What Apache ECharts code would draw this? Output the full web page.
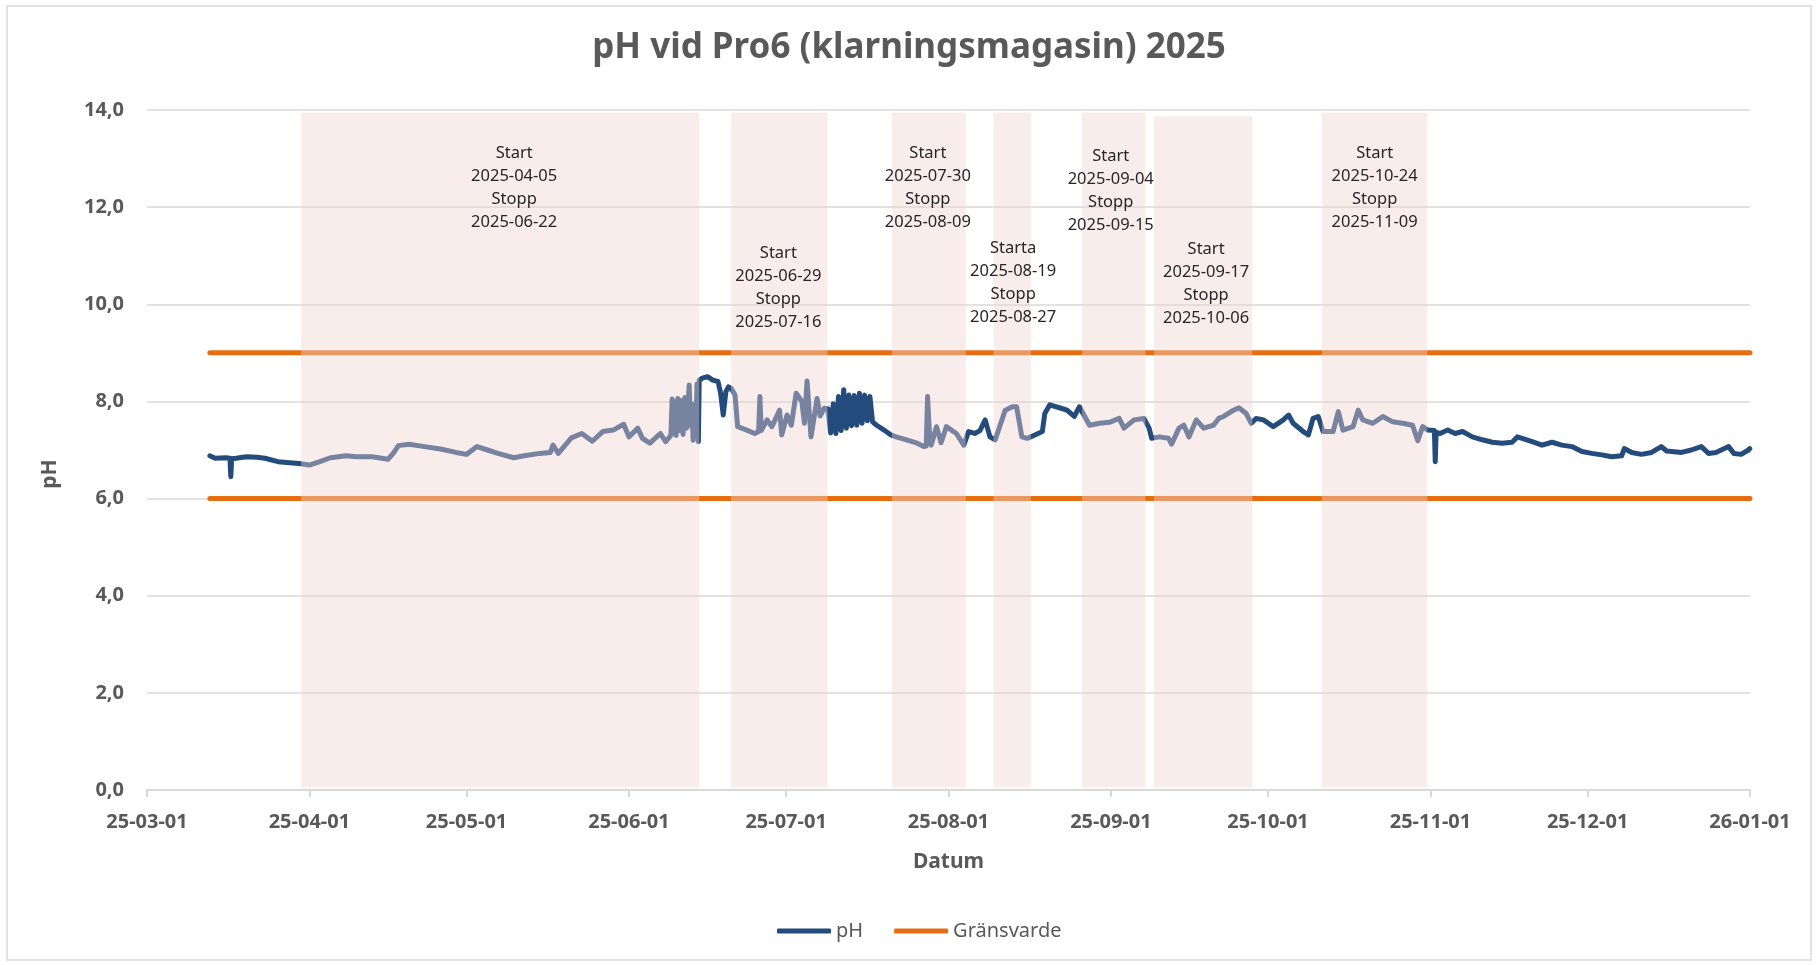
<!DOCTYPE html>
<html>
<head>
<meta charset="utf-8">
<title>pH vid Pro6 (klarningsmagasin) 2025</title>
<script src="https://cdn.jsdelivr.net/npm/echarts@6/dist/echarts.min.js"></script>
<style>
  html, body { margin: 0; padding: 0; background: #fff; }
  #main { width: 1818px; height: 965px; }
</style>
</head>
<body>
<div id="main"></div>
<script>
// pH-mätning
var phTimes = [
  '2025-03-13', '2025-03-14', '2025-03-16', '2025-03-16 20:00', '2025-03-17 00:00', '2025-03-17 04:00',
  '2025-03-18', '2025-03-20', '2025-03-22', '2025-03-23 12:00', '2025-03-26', '2025-03-30',
  '2025-04-01', '2025-04-03', '2025-04-05', '2025-04-08', '2025-04-10', '2025-04-13', '2025-04-16',
  '2025-04-17', '2025-04-18', '2025-04-20', '2025-04-23', '2025-04-26', '2025-04-29',
  '2025-05-01', '2025-05-03', '2025-05-05', '2025-05-07', '2025-05-10', '2025-05-12', '2025-05-15',
  '2025-05-17', '2025-05-17 12:00', '2025-05-18 12:00', '2025-05-20', '2025-05-21', '2025-05-23',
  '2025-05-25', '2025-05-27', '2025-05-29', '2025-05-31',
  '2025-06-01', '2025-06-02 16:00', '2025-06-03 14:00', '2025-06-05', '2025-06-07', '2025-06-08',
  '2025-06-09 00:00', '2025-06-09 06:00', '2025-06-09 12:00', '2025-06-09 18:00', '2025-06-10 00:00',
  '2025-06-10 08:00', '2025-06-10 16:00', '2025-06-11 00:00', '2025-06-11 08:00', '2025-06-11 16:00',
  '2025-06-12 00:00', '2025-06-12 12:00', '2025-06-12 18:00', '2025-06-13 00:00', '2025-06-13 06:00',
  '2025-06-13 12:00', '2025-06-13 18:00', '2025-06-14 00:00', '2025-06-14 06:00', '2025-06-14 10:00',
  '2025-06-15', '2025-06-16', '2025-06-17', '2025-06-18', '2025-06-18 12:00', '2025-06-19 00:00',
  '2025-06-19 12:00', '2025-06-20', '2025-06-20 12:00', '2025-06-21 06:00', '2025-06-21 18:00',
  '2025-06-23 12:00', '2025-06-25', '2025-06-25 18:00', '2025-06-26 00:00', '2025-06-26 06:00',
  '2025-06-26 12:00', '2025-06-27 09:00', '2025-06-28 07:00', '2025-06-29 18:00', '2025-06-30 04:00',
  '2025-07-01 04:00', '2025-07-02 00:00', '2025-07-02 22:00', '2025-07-04 00:00', '2025-07-04 12:00',
  '2025-07-05 00:00', '2025-07-05 18:00', '2025-07-06 22:00', '2025-07-07 12:00', '2025-07-08 07:00',
  '2025-07-09 00:00', '2025-07-09 12:00', '2025-07-10 00:00', '2025-07-10 12:00', '2025-07-11 00:00',
  '2025-07-11 12:00', '2025-07-12 00:00', '2025-07-12 12:00', '2025-07-13 00:00', '2025-07-13 12:00',
  '2025-07-14 00:00', '2025-07-14 12:00', '2025-07-15 00:00', '2025-07-15 12:00', '2025-07-16 00:00',
  '2025-07-16 12:00', '2025-07-17 00:00', '2025-07-17 12:00', '2025-07-18 07:00', '2025-07-19 17:00',
  '2025-07-21', '2025-07-22', '2025-07-24', '2025-07-26', '2025-07-27 07:00', '2025-07-27 18:00',
  '2025-07-28 00:00', '2025-07-28 08:00', '2025-07-28 17:00', '2025-07-29 17:00', '2025-07-30 14:00',
  '2025-07-31 14:00', '2025-08-02 12:00', '2025-08-03 22:00', '2025-08-04 20:00', '2025-08-06',
  '2025-08-07', '2025-08-08', '2025-08-08 22:00', '2025-08-09 22:00', '2025-08-11 20:00',
  '2025-08-13 05:00', '2025-08-14', '2025-08-15', '2025-08-16', '2025-08-17 12:00', '2025-08-18 22:00',
  '2025-08-19 09:00', '2025-08-20 08:00', '2025-08-22 04:00', '2025-08-23 15:00', '2025-08-25',
  '2025-08-26', '2025-08-27', '2025-08-27 22:00', '2025-08-29 20:00', '2025-08-31 17:00',
  '2025-09-02 14:00', '2025-09-03 12:00', '2025-09-05 10:00', '2025-09-07 07:00', '2025-09-08 07:00',
  '2025-09-08 19:00', '2025-09-10 05:00', '2025-09-12', '2025-09-12 14:00', '2025-09-14',
  '2025-09-14 22:00', '2025-09-15 22:00', '2025-09-17 07:00', '2025-09-18 17:00', '2025-09-20 14:00',
  '2025-09-21 14:00', '2025-09-22 12:00', '2025-09-24 10:00', '2025-09-25 10:00', '2025-09-26 20:00',
  '2025-09-27 19:00', '2025-09-28 17:00', '2025-09-30 03:00', '2025-10-02', '2025-10-03 22:00',
  '2025-10-04 22:00', '2025-10-05 19:00', '2025-10-07 17:00', '2025-10-08 17:00', '2025-10-09 14:00',
  '2025-10-10 14:00', '2025-10-11 12:00', '2025-10-13 10:00', '2025-10-14 10:00', '2025-10-15 07:00',
  '2025-10-17 05:00', '2025-10-18 05:00', '2025-10-19 02:00', '2025-10-21', '2025-10-22 22:00',
  '2025-10-24 19:00', '2025-10-26 17:00', '2025-10-28 14:00', '2025-10-29 14:00', '2025-10-30 12:00',
  '2025-10-31 12:00', '2025-11-01 18:00', '2025-11-01 22:00', '2025-11-02 02:00', '2025-11-02 20:00',
  '2025-11-04 07:00', '2025-11-05 17:00', '2025-11-07 03:00', '2025-11-09', '2025-11-10 22:00',
  '2025-11-12 19:00', '2025-11-14 17:00', '2025-11-16 14:00', '2025-11-17 14:00', '2025-11-18 12:00',
  '2025-11-20 10:00', '2025-11-22 07:00', '2025-11-24 05:00', '2025-11-26 02:00', '2025-11-28',
  '2025-11-29 22:00', '2025-12-01 19:00', '2025-12-03 17:00', '2025-12-05 14:00', '2025-12-07 12:00',
  '2025-12-08', '2025-12-09 10:00', '2025-12-11 07:00', '2025-12-13 05:00', '2025-12-15 02:00',
  '2025-12-16 02:00', '2025-12-18 22:00', '2025-12-20 19:00', '2025-12-22 17:00', '2025-12-24 02:00',
  '2025-12-25 12:00', '2025-12-27 22:00', '2025-12-28 22:00', '2025-12-30 07:00', '2025-12-31 17:00',
  '2025-12-31 23:00'
];
var phValues = [
  6.88, 6.83, 6.84, 6.83, 6.45, 6.82,
  6.83, 6.86, 6.85, 6.83, 6.76, 6.72,
  6.69, 6.76, 6.84, 6.88, 6.86, 6.86, 6.81,
  6.93, 7.09, 7.12, 7.07, 7.02, 6.95,
  6.91, 7.07, 7.00, 6.93, 6.84, 6.88, 6.93,
  6.95, 7.10, 6.93, 7.12, 7.25, 7.34,
  7.18, 7.38, 7.41, 7.53,
  7.27, 7.45, 7.24, 7.14, 7.34, 7.17,
  7.30, 8.05, 7.35, 8.00, 7.30,
  8.06, 7.40, 8.02, 7.32, 8.08,
  7.45, 8.34, 7.50, 7.95, 7.20,
  7.90, 7.35, 8.36, 7.17, 8.44,
  8.48, 8.51, 8.44, 8.41, 8.17, 7.72,
  8.20, 8.30, 8.27, 8.13, 7.48,
  7.41, 7.34, 7.38, 8.10, 7.40,
  7.38, 7.62, 7.48, 7.82, 7.31,
  7.72, 7.51, 8.17, 8.00, 7.55,
  8.42, 7.27, 8.06, 7.70, 7.86,
  7.85, 7.35, 7.95, 7.34, 8.10,
  7.40, 8.24, 7.45, 8.13, 7.50,
  8.12, 7.51, 8.17, 7.55, 8.13,
  7.60, 8.10, 7.58, 7.51, 7.41,
  7.31, 7.27, 7.21, 7.14, 7.07, 7.08,
  8.10, 7.40, 7.10, 7.48, 7.15,
  7.48, 7.34, 7.10, 7.38, 7.34,
  7.40, 7.62, 7.27, 7.21, 7.82,
  7.89, 7.89, 7.27, 7.24, 7.31, 7.38,
  7.75, 7.93, 7.87, 7.82, 7.69,
  7.89, 7.69, 7.51, 7.55, 7.57,
  7.65, 7.45, 7.62, 7.65, 7.45,
  7.24, 7.27, 7.24, 7.12, 7.45,
  7.51, 7.27, 7.62, 7.45, 7.51,
  7.65, 7.69, 7.82, 7.87, 7.75,
  7.55, 7.65, 7.62, 7.48, 7.62,
  7.72, 7.55, 7.38, 7.31, 7.65,
  7.69, 7.38, 7.38, 7.79, 7.41,
  7.48, 7.82, 7.62, 7.55, 7.69,
  7.58, 7.55, 7.51, 7.19, 7.48,
  7.41, 7.40, 6.76, 7.36, 7.34,
  7.41, 7.34, 7.38, 7.27, 7.21,
  7.16, 7.14, 7.16, 7.27, 7.24,
  7.17, 7.10, 7.16, 7.10, 7.07,
  6.97, 6.93, 6.90, 6.86, 6.88,
  7.03, 6.95, 6.91, 6.95, 7.07,
  6.98, 6.95, 7.00, 7.07, 6.93,
  6.95, 7.07, 6.93, 6.91, 7.00,
  7.03
];

// Gränsvärden
var limitDates = ['2025-03-13', '2026-01-01'];
var upperLimit = 9;
var lowerLimit = 6;

// Drift-perioder (skuggade fält) och deras texter
var shadeFrom = ['2025-03-30 10:00', '2025-06-20 12:00', '2025-07-21 05:00', '2025-08-09 14:00', '2025-08-26 12:00', '2025-09-09 05:00', '2025-10-11 07:00'];
var shadeTo = ['2025-06-14 10:00', '2025-07-08 22:00', '2025-08-04 07:00', '2025-08-16 17:00', '2025-09-07 14:00', '2025-09-28 00:00', '2025-10-31 10:00'];
var startWord = ['Start', 'Start', 'Start', 'Starta', 'Start', 'Start', 'Start'];
var startDates = ['2025-04-05', '2025-06-29', '2025-07-30', '2025-08-19', '2025-09-04', '2025-09-17', '2025-10-24'];
var stopDates = ['2025-06-22', '2025-07-16', '2025-08-09', '2025-08-27', '2025-09-15', '2025-10-06', '2025-11-09'];

// layout for the shading and text (pixels)
var shadeTop = [13.95, 13.95, 13.95, 13.95, 13.95, 13.87, 13.95];
var labelOffsets = [[14, 29], [-1, 129], [-1, 29], [1, 124], [-3, 32], [3, 121], [0, 29]];

var FONT = '"Noto Sans", "Open Sans", sans-serif';
var GREY = '#595959';
var BLUE = '#234B7C';
var ORANGE = '#E66D10';

function pad(n) { return n < 10 ? '0' + n : '' + n; }

var phData = phTimes.map(function (t, i) { return [t, phValues[i]]; });

var areas = shadeFrom.map(function (from, i) {
  return [
    {
      xAxis: from,
      yAxis: shadeTop[i],
      label: {
        formatter: startWord[i] + '\n' + startDates[i] + '\nStopp\n' + stopDates[i],
        offset: labelOffsets[i]
      }
    },
    { xAxis: shadeTo[i], yAxis: 0.05 }
  ];
});

var myChart = echarts.init(document.getElementById('main'));
var option = {
  animation: false,
  backgroundColor: '#fff',
  textStyle: { fontFamily: FONT },
  title: {
    text: 'pH vid Pro6 (klarningsmagasin) 2025',
    left: 'center',
    top: 31,
    padding: 0,
    textStyle: { fontFamily: FONT, fontSize: 35, fontWeight: 'bold', color: GREY }
  },
  graphic: [
    {
      type: 'rect',
      shape: { x: 7, y: 6, width: 1804, height: 954 },
      style: { fill: null, stroke: '#D9D9D9', lineWidth: 1.5 },
      silent: true
    }
  ],
  legend: {
    data: ['pH', 'Gränsvarde'],
    left: 777,
    top: 921,
    padding: 0,
    itemWidth: 54,
    itemHeight: 5,
    itemGap: 31,
    icon: 'roundRect',
    textStyle: { fontFamily: FONT, fontSize: 20, color: GREY }
  },
  grid: { left: 147, right: 68, top: 110, bottom: 175, containLabel: false },
  xAxis: {
    type: 'time',
    min: '2025-03-01',
    max: '2026-01-01',
    minInterval: 28 * 24 * 3600 * 1000,
    maxInterval: 31 * 24 * 3600 * 1000,
    name: 'Datum',
    nameLocation: 'middle',
    nameGap: 62,
    nameTextStyle: { fontFamily: FONT, fontSize: 21, fontWeight: 'bold', color: GREY },
    axisLine: { lineStyle: { color: '#D9D9D9', width: 2 } },
    axisTick: { show: true, length: 7, lineStyle: { color: '#D9D9D9', width: 2 } },
    splitLine: { show: false },
    axisLabel: {
      margin: 22,
      showMinLabel: true,
      showMaxLabel: true,
      hideOverlap: false,
      fontFamily: FONT,
      fontSize: 20,
      fontWeight: 'bold',
      color: GREY,
      formatter: function (v) {
        var d = new Date(v);
        return String(d.getFullYear()).slice(2) + '-' + pad(d.getMonth() + 1) + '-' + pad(d.getDate());
      }
    }
  },
  yAxis: {
    type: 'value',
    min: 0,
    max: 14,
    interval: 2,
    name: 'pH',
    nameLocation: 'middle',
    nameGap: 86,
    nameTextStyle: { fontFamily: FONT, fontSize: 21, fontWeight: 'bold', color: GREY, padding: [0, 48, 0, 0] },
    axisLine: { show: false },
    axisTick: { show: false },
    splitLine: { lineStyle: { color: '#D9D9D9', width: 1.5 } },
    axisLabel: {
      margin: 23,
      fontFamily: FONT,
      fontSize: 20,
      fontWeight: 'bold',
      color: GREY,
      formatter: function (v) { return v.toFixed(1).replace('.', ','); }
    }
  },
  series: [
    {
      name: 'pH',
      type: 'line',
      data: phData,
      showSymbol: false,
      symbol: 'none',
      color: BLUE,
      lineStyle: { color: BLUE, width: 5, cap: 'round', join: 'round' },
      z: 3
    },
    {
      name: 'Gränsvarde',
      type: 'line',
      data: limitDates.map(function (d) { return [d, upperLimit]; }),
      showSymbol: false,
      symbol: 'none',
      color: ORANGE,
      lineStyle: { color: ORANGE, width: 5, cap: 'round' },
      z: 2
    },
    {
      name: 'Gränsvarde',
      type: 'line',
      data: limitDates.map(function (d) { return [d, lowerLimit]; }),
      showSymbol: false,
      symbol: 'none',
      color: ORANGE,
      lineStyle: { color: ORANGE, width: 5, cap: 'round' },
      z: 2
    },
    {
      name: 'drift',
      type: 'line',
      data: [],
      z: 10,
      markArea: {
        z: 10,
        silent: true,
        itemStyle: { color: 'rgba(238, 212, 208, 0.42)' },
        label: {
          show: true,
          position: 'insideTop',
          distance: 0,
          fontFamily: FONT,
          fontSize: 16.5,
          lineHeight: 23,
          color: '#262626',
          align: 'center'
        },
        data: areas
      }
    }
  ]
};
myChart.setOption(option);
</script>
</body>
</html>
